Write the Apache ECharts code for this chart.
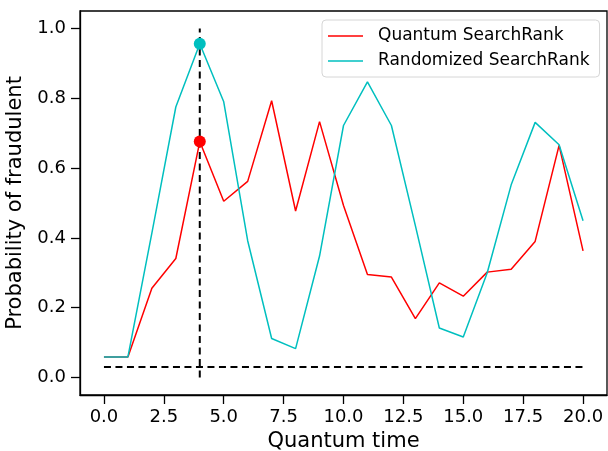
<!DOCTYPE html>
<html>
<head>
<meta charset="utf-8">
<script src="https://cdn.jsdelivr.net/npm/echarts@6/dist/echarts.min.js"></script>
<style>html,body{margin:0;padding:0;background:#fff}#c{width:608px;height:451px}</style>
</head>
<body>
<div id="c"></div>
<script>
const time = [0,1,2,3,4,5,6,7,8,9,10,11,12,13,14,15,16,17,18,19,20];
const quantum = [0.059,0.059,0.256,0.341,0.676,0.505,0.562,0.793,0.477,0.733,0.493,0.295,0.288,0.169,0.271,0.233,0.302,0.310,0.390,0.665,0.363];
const randomized = [0.059,0.059,0.414,0.775,0.956,0.790,0.392,0.112,0.083,0.348,0.722,0.847,0.722,0.435,0.142,0.116,0.300,0.552,0.731,0.667,0.449];
const xTicks = [0,2.5,5,7.5,10,12.5,15,17.5,20];
const yTicks = [0,0.2,0.4,0.6,0.8,1.0];
const vLine = [[4,0],[4,1]];
const hLine = [[0,0.03],[20,0.03]];
const markQ = [[4,0.676]];
const markR = [[4,0.956]];

const font = 'DejaVu Sans';
const chart = echarts.init(document.getElementById('c'), null, {renderer:'canvas'});
const pair = (xs, ys) => xs.map((x,i)=>[x, ys[i]]);
chart.setOption({
  animation:false,
  backgroundColor:'#fff',
  grid:{left:80, right:1, top:11, bottom:56, outerBoundsMode:'none', containLabel:false, show:true, borderColor:'#000', borderWidth:1.3, backgroundColor:'transparent'},
  xAxis:{type:'value', min:-1, max:21,
    name:'Quantum time', nameLocation:'middle', nameGap:34,
    nameTextStyle:{fontFamily:font, fontSize:21, color:'#000'},
    axisLine:{show:true, onZero:false, lineStyle:{color:'#000', width:1.3}},
    axisTick:{show:true, length:9, inside:false, customValues:xTicks, lineStyle:{color:'#000', width:1.3}},
    axisLabel:{customValues:xTicks, margin:13, fontFamily:font, fontSize:18, color:'#000', formatter:v=>v.toFixed(1)},
    splitLine:{show:false}},
  yAxis:{type:'value', min:-0.05, max:1.05,
    name:'Probability of fraudulent', nameLocation:'middle', nameGap:46, nameRotate:90,
    nameTextStyle:{fontFamily:font, fontSize:21, color:'#000'},
    axisLine:{show:true, onZero:false, lineStyle:{color:'#000', width:1.3}},
    axisTick:{show:true, length:9, inside:false, customValues:yTicks, lineStyle:{color:'#000', width:1.3}},
    axisLabel:{customValues:yTicks, margin:14, fontFamily:font, fontSize:18, color:'#000', formatter:v=>v.toFixed(1)},
    splitLine:{show:false}},
  legend:{orient:'vertical', left:322, top:20, width:276,
    data:['Quantum SearchRank','Randomized SearchRank'],
    icon:'rect', itemWidth:35, itemHeight:1.6, itemGap:5,
    padding:[6,10,6,6],
    backgroundColor:'#fff', borderColor:'#d6d6d6', borderWidth:1, borderRadius:4,
    textStyle:{fontFamily:font, fontSize:17, color:'#000', lineHeight:20, padding:[0,0,0,10]}},
  series:[
    {name:'Quantum SearchRank', type:'line', data:pair(time, quantum), showSymbol:false, symbol:'none',
      lineStyle:{color:'#ff0000', width:1.5}, itemStyle:{color:'#ff0000'}, z:2},
    {name:'Randomized SearchRank', type:'line', data:pair(time, randomized), showSymbol:false, symbol:'none',
      lineStyle:{color:'#00bfbf', width:1.5}, itemStyle:{color:'#00bfbf'}, z:2},
    {type:'line', data:vLine, symbol:'none', lineStyle:{color:'#000', width:2, type:[7,4.5]}, z:3, silent:true},
    {type:'line', data:hLine, symbol:'none', lineStyle:{color:'#000', width:2, type:[7,4.5]}, z:3, silent:true},
    {type:'scatter', data:markQ, symbolSize:12, itemStyle:{color:'#ff0000', opacity:1}, z:4},
    {type:'scatter', data:markR, symbolSize:12, itemStyle:{color:'#00bfbf', opacity:1}, z:4}
  ]
});
</script>
</body>
</html>
